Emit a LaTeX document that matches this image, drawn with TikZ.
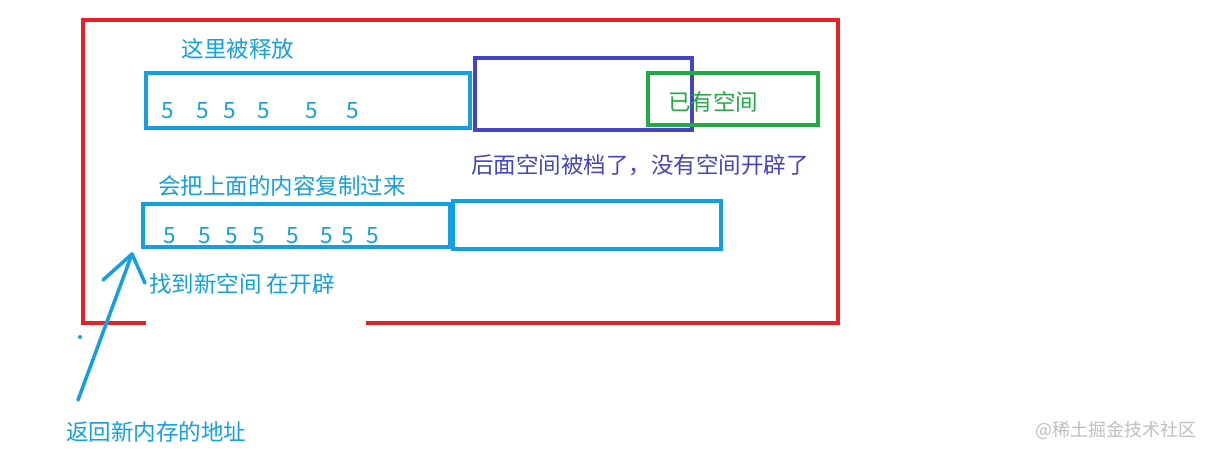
\documentclass[tikz,border=0pt]{standalone}
\usepackage{fontspec}
\setmainfont{Noto Sans CJK SC}
\begin{document}
\begin{tikzpicture}[x=1pt,y=-1pt,
  cy/.style={draw=cyanc,line width=3.5pt},
  lab/.style={font=\fontsize{22.5}{22.5}\selectfont,inner sep=0pt},
  dig/.style={lab,text=cyanc}]
\definecolor{cyanc}{HTML}{14A0E0}
\definecolor{redc}{HTML}{E8202A}
\definecolor{bluec}{HTML}{4545C0}
\definecolor{greenc}{HTML}{22AA44}
\useasboundingbox[fill=white] (0,0) rectangle (1210,456);
% red frame
\draw[redc,line width=3.5pt] (146,323) -- (83,323) -- (83,20) -- (838,20) -- (838,323) -- (366,323);
\fill[cyanc] (80,337) circle (2);
% top row
\draw[cy] (146,73) rectangle (470,128);
\draw[draw=bluec,line width=3.5pt] (475,58) rectangle (692,130);
\draw[draw=greenc,line width=3.5pt] (648,73) rectangle (818,125);
\node[lab,text=cyanc] (t1) at (238,49) {这里被释放};
\foreach \x in {168,203,230,264,312,353} \node[dig] at (\x,111) {5};
\node[lab,text=greenc] (t2) at (713,102) {已有空间};
\node[lab,text=bluec] (t3) at (640,165) {后面空间被档了，没有空间开辟了};
% bottom row
\node[lab,text=cyanc] (t4) at (282,186) {会把上面的内容复制过来};
\draw[cy] (143,204) rectangle (450,247);
\draw[cy] (453,201) rectangle (721,249);
\foreach \x in {170,205,232,259,293,327,348,373} \node[dig] at (\x,236) {5};
\node[lab,text=cyanc] (t5) at (242,284) {找到新空间 在开辟};
% arrow
\coordinate (a0) at (78,400);
\coordinate (a1) at (132,254);
\draw[cyanc,line width=3.5pt,line cap=round,line join=round] (a0) -- (a1);
\draw[cyanc,line width=3.5pt,line cap=round,line join=round] (103,280) -- (a1) -- (145,283);
\node[lab,text=cyanc] (t6) at (156,432) {返回新内存的地址};
\node[font=\fontsize{18}{18}\selectfont,text=black!25,inner sep=0pt] (wm) at (1116,430) {@稀土掘金技术社区};
\end{tikzpicture}
\end{document}
